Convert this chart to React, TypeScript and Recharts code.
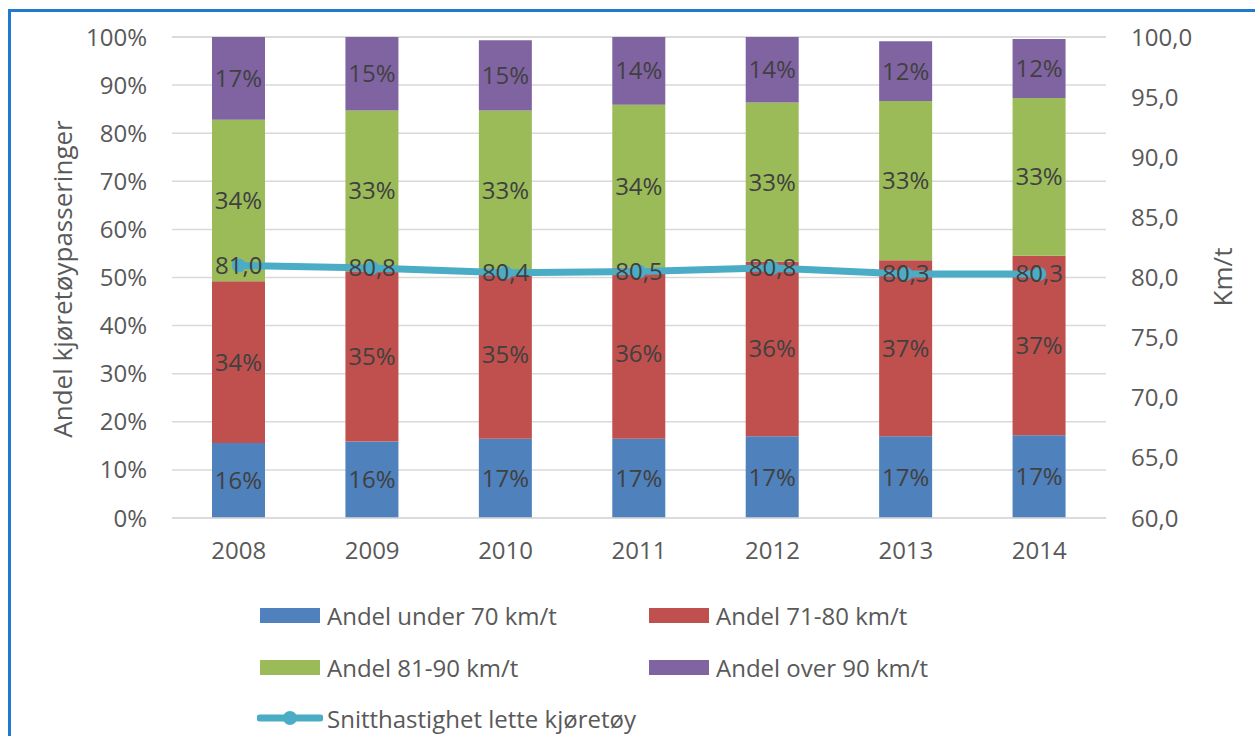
import {
  ComposedChart,
  Bar,
  Line,
  XAxis,
  YAxis,
  CartesianGrid,
  LabelList,
} from 'recharts'

const YEARS = ['2008', '2009', '2010', '2011', '2012', '2013', '2014']
const UNDER_70 = [15.6, 15.9, 16.5, 16.5, 17.0, 17.0, 17.2]
const FROM_71_80 = [33.6, 35.4, 34.8, 35.6, 36.3, 36.6, 37.3]
const FROM_81_90 = [33.6, 33.4, 33.4, 33.8, 33.1, 33.1, 32.8]
const OVER_90 = [17.2, 15.3, 14.6, 14.1, 13.6, 12.4, 12.3]
const AVG_SPEED = [81.0, 80.8, 80.4, 80.5, 80.8, 80.3, 80.3]

const PCT_TICKS = [0, 10, 20, 30, 40, 50, 60, 70, 80, 90, 100]
const SPEED_TICKS = [60, 65, 70, 75, 80, 85, 90, 95, 100]

const FONT = '"Open Sans", "Noto Sans", sans-serif'
const TICK_COLOUR = '#595959'
const LABEL_COLOUR = '#404040'

const BAR_SERIES = [
  { key: 'under70', name: 'Andel under 70 km/t', colour: '#4f81bd', values: UNDER_70 },
  { key: 'from71', name: 'Andel 71-80 km/t', colour: '#c0504d', values: FROM_71_80 },
  { key: 'from81', name: 'Andel 81-90 km/t', colour: '#9bbb59', values: FROM_81_90 },
  { key: 'over90', name: 'Andel over 90 km/t', colour: '#8064a2', values: OVER_90 },
]
const LINE_NAME = 'Snitthastighet lette kjøretøy'
const LINE_COLOUR = '#4bacc6'

const chartData = YEARS.map((year, i) => {
  const row: Record<string, number | string> = { year, speed: AVG_SPEED[i] }
  BAR_SERIES.forEach((s) => {
    row[s.key] = s.values[i]
  })
  return row
})

const comma = (v: number) => v.toFixed(1).replace('.', ',')
const tickStyle = { fill: TICK_COLOUR, fontSize: 24, fontFamily: FONT }

function LegendBlock() {
  const rows = [BAR_SERIES.slice(0, 2), BAR_SERIES.slice(2, 4)]
  const textStyle = { fontSize: 24, color: TICK_COLOUR, fontFamily: FONT, whiteSpace: 'nowrap' as const }
  return (
    <div style={{ position: 'absolute', left: 0, top: 0 }}>
      {rows.map((row, r) =>
        row.map((s, c) => (
          <div
            key={s.key}
            style={{
              position: 'absolute',
              left: c === 0 ? 260 : 649,
              top: 615 + r * 52 - 17,
              height: 34,
              display: 'flex',
              alignItems: 'center',
            }}
          >
            <div style={{ width: 60, height: 15, background: s.colour, marginRight: 7 }} />
            <span style={textStyle}>{s.name}</span>
          </div>
        ))
      )}
      <div
        style={{
          position: 'absolute',
          left: 257,
          top: 718 - 17,
          height: 34,
          display: 'flex',
          alignItems: 'center',
        }}
      >
        <svg width={66} height={20} style={{ marginRight: 4 }}>
          <line x1={3} y1={10} x2={63} y2={10} stroke={LINE_COLOUR} strokeWidth={7} strokeLinecap="round" />
          <circle cx={33} cy={10} r={7} fill={LINE_COLOUR} />
        </svg>
        <span style={textStyle}>{LINE_NAME}</span>
      </div>
    </div>
  )
}

export default function App() {
  return (
    <div
      style={{
        position: 'absolute',
        left: 0,
        top: 0,
        width: 1255,
        height: 736,
        background: '#fff',
        overflow: 'hidden',
        fontFamily: FONT,
      }}
    >
      {/* blue frame round the figure */}
      <div
        style={{
          position: 'absolute',
          left: 8,
          top: 9,
          width: 1300,
          height: 800,
          borderLeft: '3px solid #1f7bd0',
          borderTop: '3px solid #1f7bd0',
        }}
      />
      <div style={{ position: 'absolute', left: 0, top: 0 }}>
        <ComposedChart
          width={1255}
          height={736}
          data={chartData}
          margin={{ top: 37, right: 49, left: 72, bottom: 178 }}
        >
          <CartesianGrid vertical={false} stroke="#d9d9d9" strokeWidth={1.5} yAxisId="pct" />
          <XAxis
            dataKey="year"
            tick={tickStyle}
            tickLine={false}
            tickSize={0}
            tickMargin={24}
            height={40}
            axisLine={{ stroke: '#d9d9d9', strokeWidth: 1.5 }}
          />
          <YAxis
            yAxisId="pct"
            orientation="left"
            domain={[0, 100]}
            ticks={PCT_TICKS}
            width={100}
            tick={tickStyle}
            tickLine={false}
            tickSize={0}
            tickMargin={25}
            axisLine={false}
            tickFormatter={(v: number) => `${v}%`}
          />
          <YAxis
            yAxisId="speed"
            orientation="right"
            domain={[60, 100]}
            ticks={SPEED_TICKS}
            width={100}
            tick={tickStyle}
            tickLine={false}
            tickSize={0}
            tickMargin={25}
            axisLine={false}
            tickFormatter={(v: number) => comma(v)}
          />
          {BAR_SERIES.map((s) => (
            <Bar
              key={s.key}
              dataKey={s.key}
              name={s.name}
              yAxisId="pct"
              stackId="share"
              fill={s.colour}
              barSize={53}
              isAnimationActive={false}
            >
              <LabelList
                dataKey={s.key}
                position="center"
                formatter={(v: number) => `${Math.round(v)}%`}
                style={{ fill: LABEL_COLOUR, fontSize: 24, fontFamily: FONT }}
              />
            </Bar>
          ))}
          <Line
            dataKey="speed"
            name={LINE_NAME}
            yAxisId="speed"
            type="linear"
            stroke={LINE_COLOUR}
            strokeWidth={7}
            dot={{ r: 7, fill: LINE_COLOUR, stroke: LINE_COLOUR, strokeWidth: 0 }}
            isAnimationActive={false}
          >
            <LabelList
              dataKey="speed"
              position="center"
              formatter={(v: number) => comma(v)}
              style={{ fill: LABEL_COLOUR, fontSize: 24, fontFamily: FONT }}
            />
          </Line>
        </ComposedChart>
      </div>
      <div
        style={{
          position: 'absolute',
          left: 62,
          top: 279,
          transform: 'translate(-50%, -50%) rotate(-90deg)',
          fontSize: 26,
          color: TICK_COLOUR,
          whiteSpace: 'nowrap',
        }}
      >
        Andel kjøretøypasseringer
      </div>
      <div
        style={{
          position: 'absolute',
          left: 1222,
          top: 277,
          transform: 'translate(-50%, -50%) rotate(-90deg)',
          fontSize: 26,
          color: TICK_COLOUR,
          whiteSpace: 'nowrap',
        }}
      >
        Km/t
      </div>
      <LegendBlock />
    </div>
  )
}
